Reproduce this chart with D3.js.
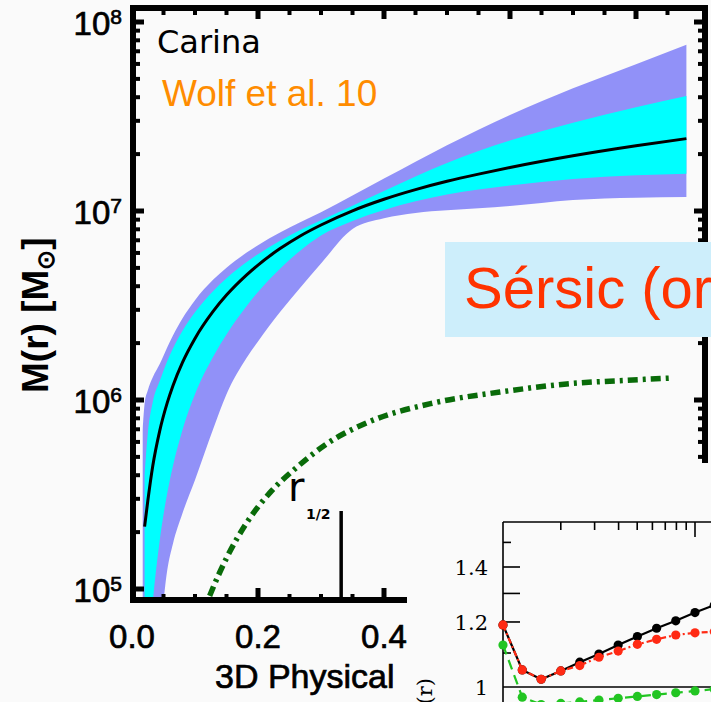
<!DOCTYPE html>
<html>
<head>
<meta charset="utf-8">
<script src="https://cdn.jsdelivr.net/npm/d3@7"></script>
<style>
  html, body { margin: 0; padding: 0; background: #fafafa; }
  svg { display: block; }
</style>
</head>
<body>
<svg id="chart" width="711" height="702"></svg>
<script>
// ---- Enclosed mass profile of the Carina dwarf spheroidal (log10 M / Msun) ----
const radiusKpc     = [0.017, 0.02, 0.025, 0.033, 0.044, 0.056, 0.065, 0.08, 0.1, 0.129, 0.15, 0.182, 0.2, 0.235, 0.267, 0.3, 0.35, 0.4, 0.45, 0.5, 0.55, 0.6, 0.7, 0.8, 0.88];
const logMassMedian = [null, 5.33, 5.464, 5.652, 5.837, 5.986, 6.076, 6.198, 6.326, 6.47, 6.555, 6.662, 6.714, 6.801, 6.868, 6.926, 7.001, 7.062, 7.113, 7.157, 7.195, 7.23, 7.292, 7.345, 7.383];
const logMass68Lo   = [null, 4.30, 4.60, 4.931, 5.256, 5.508, 5.651, 5.84, 6.03, 6.23, 6.347, 6.498, 6.572, 6.695, 6.79, 6.87, 6.947, 7.005, 7.051, 7.087, 7.114, 7.135, 7.169, 7.189, 7.197];
const logMass68Hi   = [null, 5.60, 5.82, 5.99, 6.10, 6.207, 6.273, 6.365, 6.464, 6.577, 6.644, 6.73, 6.771, 6.843, 6.90, 6.951, 7.028, 7.106, 7.183, 7.254, 7.318, 7.373, 7.467, 7.549, 7.608];
const logMass95Lo   = [4.00, 4.10, 4.28, 4.50, 4.75, 5.10, 5.24, 5.40, 5.577, 5.848, 6.03, 6.223, 6.31, 6.465, 6.594, 6.722, 6.905, 6.962, 6.99, 7.004, 7.014, 7.026, 7.058, 7.07, 7.074];
const logMass95Hi   = [5.84, 5.98, 6.05, 6.12, 6.19, 6.279, 6.341, 6.431, 6.528, 6.637, 6.70, 6.78, 6.819, 6.886, 6.94, 6.993, 7.082, 7.172, 7.261, 7.348, 7.43, 7.508, 7.649, 7.777, 7.88];

// Stellar (Sersic) mass profile
const sersicRadius  = [0.11, 0.124, 0.151, 0.182, 0.219, 0.262, 0.31, 0.373, 0.478, 0.584, 0.69, 0.795, 0.855];
const sersicLogMass = [4.85, 4.97, 5.17, 5.35, 5.51, 5.645, 5.77, 5.88, 5.984, 6.042, 6.085, 6.106, 6.116];

const rHalf = 0.332;

// Axis ticks and labels
const xMajorTicks = [0, 0.2, 0.4, 0.6, 0.8];
const xTickLabels = ["0.0", "0.2", "0.4", "0.6", "0.8"];
const yDecades    = [5, 6, 7, 8];

// ---- Inset: mass ratio profiles ----
const insetRadius = [0.01, 0.0126, 0.0158, 0.02, 0.0251, 0.0316, 0.0398, 0.0501, 0.0631, 0.0794, 0.1, 0.126];
const ratioBlack  = [1.19, 1.049, 1.022, 1.046, 1.072, 1.097, 1.125, 1.152, 1.179, 1.204, 1.232, 1.258];
const ratioRed    = [1.19, 1.049, 1.022, 1.046, 1.062, 1.087, 1.106, 1.127, 1.143, 1.157, 1.164, 1.168];
const ratioGreen  = [1.125, 0.972, 0.952, 0.955, 0.959, 0.964, 0.969, 0.974, 0.979, 0.984, 0.989, 0.994];
const insetYTicks      = [1.1, 1.2, 1.3, 1.4, 1.5];
const insetYLongTicks  = [1.2, 1.3, 1.4];
const insetYLabels     = [1, 1.2, 1.4];
const insetXTicks = [0.02, 0.03, 0.04, 0.05, 0.06, 0.07, 0.08, 0.09, 0.1];

// ---------------------------------------------------------------
const BG = "#fafafa";
const svg = d3.select("#chart");
svg.append("rect").attr("width", 711).attr("height", 702).attr("fill", BG);

const frame = { left: 133, right: 705, top: 8, bottom: 600 };
const x = d3.scaleLinear().domain([0, 0.9]).range([132, 699]);
const y = d3.scaleLog().domain([1e5, 1e8]).range([589, 22]);

const defs = svg.append("defs");
defs.append("clipPath").attr("id", "plotClip").append("rect")
  .attr("x", frame.left).attr("y", frame.top)
  .attr("width", frame.right - frame.left).attr("height", frame.bottom - frame.top);

const rows = radiusKpc.map((r, i) => ({
  r, med: logMassMedian[i], lo68: logMass68Lo[i], hi68: logMass68Hi[i],
  lo95: logMass95Lo[i], hi95: logMass95Hi[i]
}));

const plotG = svg.append("g").attr("clip-path", "url(#plotClip)");

// 95% band
plotG.append("path")
  .datum(rows)
  .attr("fill", "#9191f8")
  .attr("d", d3.area()
    .x(d => x(d.r))
    .y0(d => y(10 ** d.lo95))
    .y1(d => y(10 ** d.hi95))
    .curve(d3.curveMonotoneX));

// 68% band
plotG.append("path")
  .datum(rows)
  .attr("fill", "#00ffff")
  .attr("d", d3.area()
    .defined(d => d.hi68 != null)
    .x(d => x(d.r))
    .y0(d => y(10 ** d.lo68))
    .y1(d => y(10 ** d.hi68))
    .curve(d3.curveMonotoneX));

// median
plotG.append("path")
  .datum(rows)
  .attr("fill", "none")
  .attr("stroke", "#000")
  .attr("stroke-width", 3)
  .attr("d", d3.line()
    .defined(d => d.med != null)
    .x(d => x(d.r))
    .y(d => y(10 ** d.med))
    .curve(d3.curveMonotoneX));

// Sersic stellar mass
const sersic = sersicRadius.map((r, i) => ({ r, m: sersicLogMass[i] }));
plotG.append("path")
  .datum(sersic)
  .attr("fill", "none")
  .attr("stroke", "#096b09")
  .attr("stroke-width", 5.5)
  .attr("stroke-dasharray", "10,5,3,5")
  .attr("d", d3.line()
    .x(d => x(d.r))
    .y(d => y(10 ** d.m))
    .curve(d3.curveMonotoneX));

// ---- frame and ticks ----
const axG = svg.append("g").attr("stroke", "#000").attr("stroke-linecap", "butt");
const lineW = 6;
axG.append("line").attr("x1", frame.left).attr("x2", frame.left).attr("y1", frame.top - 3).attr("y2", frame.bottom + 3).attr("stroke-width", lineW);
axG.append("line").attr("x1", frame.right).attr("x2", frame.right).attr("y1", frame.top - 3).attr("y2", frame.bottom + 3).attr("stroke-width", lineW);
axG.append("line").attr("x1", frame.left - 3).attr("x2", frame.right + 3).attr("y1", frame.top).attr("y2", frame.top).attr("stroke-width", lineW);
axG.append("line").attr("x1", frame.left - 3).attr("x2", frame.right + 3).attr("y1", frame.bottom).attr("y2", frame.bottom).attr("stroke-width", lineW);

// y ticks (log) on left and right
yDecades.forEach(e => {
  const v = 10 ** e;
  const yy = y(v);
  axG.append("line").attr("x1", frame.left).attr("x2", frame.left + 11).attr("y1", yy).attr("y2", yy).attr("stroke-width", 5);
  axG.append("line").attr("x1", frame.right).attr("x2", frame.right - 11).attr("y1", yy).attr("y2", yy).attr("stroke-width", 5);
  if (e < 8) {
    for (let m = 2; m <= 9; m++) {
      const ym = y(v * m);
      axG.append("line").attr("x1", frame.left).attr("x2", frame.left + 7).attr("y1", ym).attr("y2", ym).attr("stroke-width", 4);
      axG.append("line").attr("x1", frame.right).attr("x2", frame.right - 7).attr("y1", ym).attr("y2", ym).attr("stroke-width", 4);
    }
  }
});

// x ticks on bottom and top
const xMinor = d3.range(0.05, 0.9, 0.05).filter(v => !xMajorTicks.some(t => Math.abs(t - v) < 1e-6));
xMajorTicks.forEach(v => {
  if (v === 0) return;
  axG.append("line").attr("x1", x(v)).attr("x2", x(v)).attr("y1", frame.bottom).attr("y2", frame.bottom - 12).attr("stroke-width", 5);
  axG.append("line").attr("x1", x(v)).attr("x2", x(v)).attr("y1", frame.top).attr("y2", frame.top + 11).attr("stroke-width", 5);
});
xMinor.forEach(v => {
  axG.append("line").attr("x1", x(v)).attr("x2", x(v)).attr("y1", frame.bottom).attr("y2", frame.bottom - 6).attr("stroke-width", 4);
  axG.append("line").attr("x1", x(v)).attr("x2", x(v)).attr("y1", frame.top).attr("y2", frame.top + 7).attr("stroke-width", 4);
});

// y tick labels: 10^n
const tickFont = "'Liberation Sans', Arial, sans-serif";
yDecades.forEach(e => {
  const t = svg.append("text")
    .attr("x", 122).attr("y", y(10 ** e) + 13)
    .attr("text-anchor", "end")
    .attr("font-family", tickFont).attr("font-size", 33)
    .attr("fill", "#000").attr("stroke", "#000").attr("stroke-width", 0.7);
  t.append("tspan").text("10");
  t.append("tspan").attr("dy", -11).attr("font-size", 21).text(String(e));
});

// x tick labels
xMajorTicks.forEach((v, i) => {
  svg.append("text")
    .attr("x", x(v)).attr("y", 648)
    .attr("text-anchor", "middle")
    .attr("font-family", tickFont).attr("font-size", 33)
    .attr("fill", "#000").attr("stroke", "#000").attr("stroke-width", 0.7)
    .text(xTickLabels[i]);
});

// axis titles
svg.append("text")
  .attr("x", 215).attr("y", 688)
  .attr("font-family", tickFont).attr("font-size", 34)
  .attr("fill", "#000").attr("stroke", "#000").attr("stroke-width", 0.7)
  .text("3D Physical");

const yTitle = svg.append("text")
  .attr("transform", "translate(48,393) rotate(-90)")
  .attr("font-family", tickFont).attr("font-size", 37).attr("font-weight", "bold")
  .attr("fill", "#000");
yTitle.append("tspan").text("M(r) [M");
yTitle.append("tspan").attr("font-size", 24).attr("dy", 6).text("\u2299");
yTitle.append("tspan").attr("dy", -6).text("]");

// r_1/2 marker
svg.append("line")
  .attr("x1", x(rHalf)).attr("x2", x(rHalf))
  .attr("y1", 511).attr("y2", frame.bottom)
  .attr("stroke", "#000").attr("stroke-width", 3.5);
svg.append("text").attr("x", 288).attr("y", 501)
  .attr("font-family", "'DejaVu Sans', sans-serif").attr("font-size", 40).attr("fill", "#000").text("r");
svg.append("text").attr("x", 306).attr("y", 519)
  .attr("font-family", "'DejaVu Sans', sans-serif").attr("font-size", 14).attr("font-weight", "bold").attr("fill", "#000").text("1/2");

// in-panel annotations
svg.append("text").attr("x", 157).attr("y", 53)
  .attr("font-family", "'DejaVu Sans', sans-serif").attr("font-size", 32).attr("fill", "#000").text("Carina");
svg.append("text").attr("x", 162).attr("y", 106)
  .attr("font-family", tickFont).attr("font-size", 37).attr("fill", "#ff8c00").text("Wolf et al. 10");

// Sersic caption box
svg.append("rect").attr("x", 445).attr("y", 242).attr("width", 280).attr("height", 95).attr("fill", "#cdeefb");
svg.append("text").attr("x", 464).attr("y", 308)
  .attr("font-family", tickFont).attr("font-size", 58).attr("fill", "#ff3300").text("S\u00e9rsic (or");

// ---- inset panel ----
svg.append("rect").attr("x", 407).attr("y", 463).attr("width", 304).attr("height", 239).attr("fill", BG);

const ix = d3.scaleLog().domain([0.01, 0.1]).range([503, 695]);
const iy = d3.scaleLog().domain([1, 1.4]).range([687, 567]);
const insetTop = 522;
const inG = svg.append("g");

inG.append("line").attr("x1", 503).attr("x2", 503).attr("y1", insetTop).attr("y2", 702).attr("stroke", "#000").attr("stroke-width", 1.6);
inG.append("line").attr("x1", 503).attr("x2", 711).attr("y1", insetTop).attr("y2", insetTop).attr("stroke", "#000").attr("stroke-width", 1.6);
inG.append("line").attr("x1", 503).attr("x2", 711).attr("y1", iy(1)).attr("y2", iy(1)).attr("stroke", "#000").attr("stroke-width", 1.6);

insetYTicks.forEach(v => {
  const len = insetYLongTicks.includes(v) ? 17 : 8;
  inG.append("line").attr("x1", 503).attr("x2", 503 + len).attr("y1", iy(v)).attr("y2", iy(v)).attr("stroke", "#000").attr("stroke-width", 1.6);
});
insetXTicks.forEach(v => {
  const len = v === 0.1 ? 15 : 8;
  inG.append("line").attr("x1", ix(v)).attr("x2", ix(v)).attr("y1", insetTop).attr("y2", insetTop + len).attr("stroke", "#000").attr("stroke-width", 1.6);
});
insetYLabels.forEach(v => {
  inG.append("text").attr("x", 488).attr("y", iy(v) + 8)
    .attr("text-anchor", "end")
    .attr("font-family", "'DejaVu Serif', serif").attr("font-size", 21).attr("fill", "#000")
    .text(String(v));
});
inG.append("text")
  .attr("transform", "translate(432,678) rotate(-90)")
  .attr("text-anchor", "end")
  .attr("font-family", "'DejaVu Serif', serif").attr("font-size", 21).attr("fill", "#000")
  .text("(r)");

const insetSeries = [
  { vals: ratioGreen, color: "#22c522", dash: "10,6" },
  { vals: ratioBlack, color: "#000000", dash: null },
  { vals: ratioRed,   color: "#ff2a14", dash: "6,3,2,3" }
];
const insetLine = d3.line().x(d => ix(d.r)).y(d => iy(d.v));
insetSeries.forEach(s => {
  const pts = insetRadius.map((r, i) => ({ r, v: s.vals[i] }));
  inG.append("path").datum(pts)
    .attr("fill", "none").attr("stroke", s.color).attr("stroke-width", 2.2)
    .attr("stroke-dasharray", s.dash)
    .attr("d", insetLine);
  inG.selectAll(null).data(pts).enter().append("circle")
    .attr("cx", d => ix(d.r)).attr("cy", d => iy(d.v)).attr("r", 4.6)
    .attr("fill", s.color);
});
</script>
</body>
</html>
